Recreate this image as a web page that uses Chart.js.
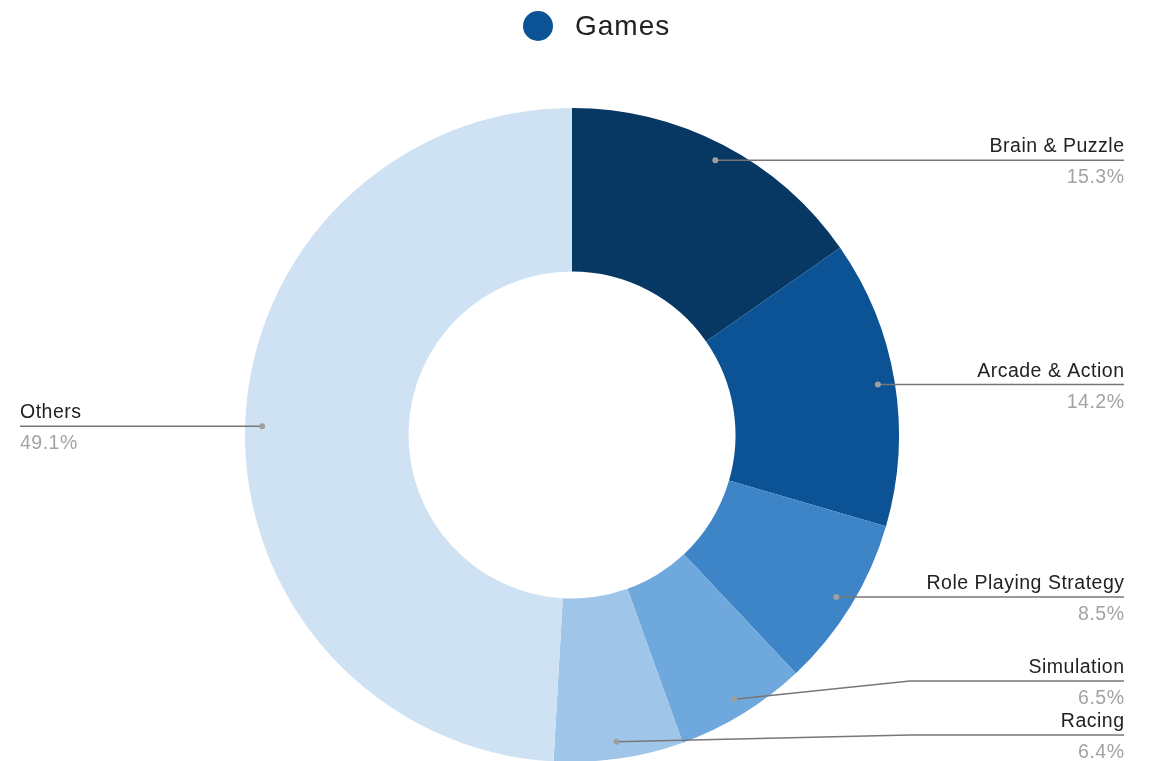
<!DOCTYPE html>
<html>
<head>
<meta charset="utf-8">
<script src="https://cdn.jsdelivr.net/npm/chart.js@4.4.1/dist/chart.umd.min.js"></script>
<style>
  html, body { margin: 0; padding: 0; overflow: hidden; background: #ffffff; }
  #wrap { position: relative; width: 1150px; height: 770px; }
</style>
</head>
<body>
<div id="wrap"><canvas id="chart"></canvas></div>
<script>
// Share of games by genre (percent)
const seriesName = 'Games';
const categories = ['Brain & Puzzle', 'Arcade & Action', 'Role Playing Strategy', 'Simulation', 'Racing', 'Others'];
const shares = [15.3, 14.2, 8.5, 6.5, 6.4, 49.1];
const sliceColors = ['#073763', '#0b5394', '#3d85c6', '#6fa8dc', '#9fc5e8', '#cfe2f3'];
const legendColor = '#0b5394';

const FONT = "'Liberation Sans', Arial, Helvetica, sans-serif";
const LABEL_SPACING = 0.5;

// Single-entry legend for the series, centred above the ring
const seriesLegend = {
  id: 'seriesLegend',
  afterDraw(chart) {
    const ctx = chart.ctx;
    ctx.save();
    ctx.fillStyle = legendColor;
    ctx.beginPath();
    ctx.arc(538, 26, 15, 0, Math.PI * 2);
    ctx.fill();
    ctx.fillStyle = '#212121';
    ctx.font = '28px ' + FONT;
    if ('letterSpacing' in ctx) ctx.letterSpacing = '1px';
    ctx.textAlign = 'left';
    ctx.textBaseline = 'middle';
    ctx.fillText(seriesName, 575, 27);
    ctx.restore();
  }
};

// Leader lines with category name above and percentage below
const callouts = {
  id: 'callouts',
  afterDatasetsDraw(chart) {
    const ctx = chart.ctx;
    const meta = chart.getDatasetMeta(0);
    const right = [], left = [];
    meta.data.forEach((arc, i) => {
      const p = arc.getProps(['x', 'y', 'startAngle', 'endAngle', 'outerRadius'], true);
      const mid = (p.startAngle + p.endAngle) / 2;
      const r = p.outerRadius - 17;
      const item = { i, dx: p.x + Math.cos(mid) * r, dy: p.y + Math.sin(mid) * r };
      item.ly = item.dy;
      (Math.cos(mid) >= 0 ? right : left).push(item);
    });

    // keep right-hand labels apart, pushing upward from the bottom edge
    right.sort((a, b) => a.dy - b.dy);
    const gap = 54;
    const maxY = chart.chartArea.bottom - 27;
    for (let k = right.length - 1; k >= 0; k--) {
      const lim = k === right.length - 1 ? maxY : right[k + 1].ly - gap;
      right[k].ly = Math.min(right[k].dy, lim);
    }

    const endRight = 1124, elbowX = 910, endLeft = 20;
    ctx.save();
    ctx.lineWidth = 1.5;
    ctx.strokeStyle = '#777777';

    const drawLabel = (it, side) => {
      ctx.beginPath();
      ctx.moveTo(it.dx, it.dy);
      if (side === 'right') {
        if (Math.abs(it.ly - it.dy) > 0.5) ctx.lineTo(elbowX, it.ly);
        ctx.lineTo(endRight, it.ly);
      } else {
        ctx.lineTo(endLeft, it.ly);
      }
      ctx.stroke();

      ctx.fillStyle = '#9e9e9e';
      ctx.beginPath();
      ctx.arc(it.dx, it.dy, 3, 0, Math.PI * 2);
      ctx.fill();

      const tx = side === 'right' ? endRight : endLeft;
      ctx.textAlign = side === 'right' ? 'right' : 'left';
      ctx.textBaseline = 'alphabetic';
      ctx.font = '19.5px ' + FONT;
      if ('letterSpacing' in ctx) ctx.letterSpacing = LABEL_SPACING + 'px';
      // trailing spacing is added after the last glyph; shift right-aligned text to compensate
      const shift = side === 'right' ? LABEL_SPACING : 0;
      ctx.fillStyle = '#222222';
      ctx.fillText(categories[it.i], tx + shift, it.ly - 8);
      ctx.fillStyle = '#a3a3a3';
      ctx.fillText(shares[it.i].toFixed(1) + '%', tx + shift, it.ly + 23);
    };
    right.forEach(it => drawLabel(it, 'right'));
    left.forEach(it => drawLabel(it, 'left'));
    ctx.restore();
  }
};

new Chart(document.getElementById('chart'), {
  type: 'doughnut',
  data: {
    labels: categories,
    datasets: [{
      label: seriesName,
      data: shares,
      backgroundColor: sliceColors,
      borderWidth: 0,
      hoverOffset: 0
    }]
  },
  options: {
    responsive: true,
    maintainAspectRatio: false,
    animation: false,
    cutout: '50%',
    layout: { padding: { top: 108, bottom: 8, left: 245, right: 251 } },
    plugins: {
      legend: { display: false },
      tooltip: { enabled: false }
    }
  },
  plugins: [callouts, seriesLegend]
});
</script>
</body>
</html>
